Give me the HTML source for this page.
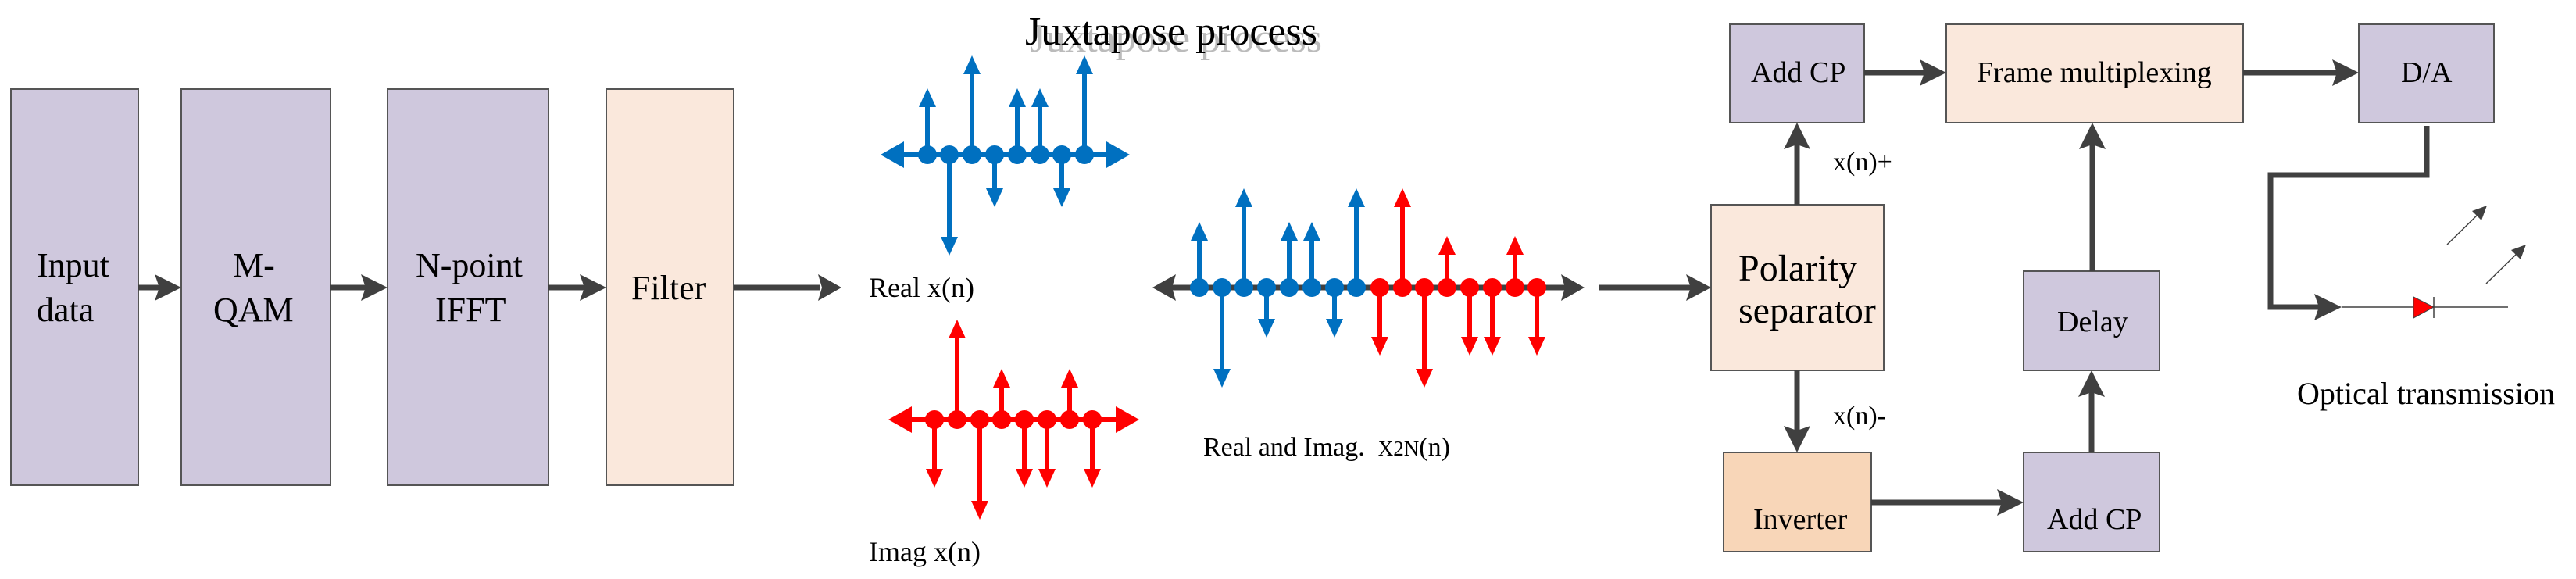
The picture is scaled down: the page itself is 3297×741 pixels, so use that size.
<!DOCTYPE html>
<html><head><meta charset="utf-8"><style>
html,body{margin:0;padding:0;background:#fff;}
body{position:relative;width:3297px;height:741px;overflow:hidden;}
svg{display:block;position:absolute;left:0;top:0;}
svg text{font-family:"Liberation Serif","Times New Roman",serif;fill:#000;}
.l{position:absolute;font-family:"Liberation Serif","Times New Roman",serif;color:#000;white-space:nowrap;margin:0;padding:0;}
.f44{font-size:44px;line-height:44px;}
.f48{font-size:48px;line-height:48px;}
.f38{font-size:38px;line-height:38px;}
</style></head><body>
<svg width="3297" height="741" viewBox="0 0 3297 741" xmlns="http://www.w3.org/2000/svg">
<g stroke="#555" stroke-width="2">
<rect x="14" y="114" width="163" height="507" fill="#CFC8DD"/>
<rect x="232" y="114" width="191" height="507" fill="#CFC8DD"/>
<rect x="496" y="114" width="206" height="507" fill="#CFC8DD"/>
<rect x="776" y="114" width="163" height="507" fill="#FAE8DC"/>
<rect x="2214" y="31" width="172" height="126" fill="#CFC8DD"/>
<rect x="2491" y="31" width="380" height="126" fill="#FAE8DC"/>
<rect x="3019" y="31" width="173" height="126" fill="#CFC8DD"/>
<rect x="2190" y="262" width="221" height="212" fill="#FAE8DC"/>
<rect x="2206" y="579" width="189" height="127" fill="#F8D6B8"/>
<rect x="2590" y="579" width="174" height="127" fill="#CFC8DD"/>
<rect x="2590" y="347" width="174" height="127" fill="#CFC8DD"/>
</g>
<g>
<text x="2346" y="218" font-size="34">x(n)+</text>
<text x="2346" y="543" font-size="34">x(n)-</text>
<text x="2940" y="517" font-size="40">Optical transmission</text>
<text x="1112" y="380" font-size="36">Real x(n)</text>
<text x="1112" y="718" font-size="36">Imag x(n)</text>
<text x="1540" y="583" font-size="34" xml:space="preserve">Real and Imag.  <tspan font-size="27">X2N</tspan>(n)</text>
<text x="1318" y="66" font-size="52" style="fill:#bbb">Juxtapose process</text>
<text x="1312" y="57" font-size="52">Juxtapose process</text>
</g>
<g stroke="#404040" stroke-width="7" fill="none">
<line x1="177" y1="368" x2="205" y2="368"/>
<line x1="423" y1="368" x2="470" y2="368"/>
<line x1="702" y1="368" x2="750" y2="368"/>
<line x1="939" y1="368" x2="1050" y2="368"/>
<line x1="1500" y1="368" x2="2005" y2="368"/>
<line x1="2046" y1="368" x2="2165" y2="368"/>
<line x1="2300" y1="262" x2="2300" y2="185"/>
<line x1="2300" y1="474" x2="2300" y2="555"/>
<line x1="2395" y1="643" x2="2565" y2="643"/>
<line x1="2677" y1="579" x2="2677" y2="500"/>
<line x1="2678" y1="347" x2="2678" y2="185"/>
<line x1="2386" y1="93" x2="2465" y2="93"/>
<line x1="2871" y1="93" x2="2995" y2="93"/>
<polyline points="3106,161 3106,224 2906,224 2906,393 2970,393"/>
</g>
<g fill="#404040">
<polygon points="232,368 198,351 204,368 198,385"/>
<polygon points="496,368 462,351 468,368 462,385"/>
<polygon points="776,368 742,351 748,368 742,385"/>
<polygon points="1077,368 1047,351 1052,368 1047,385"/>
<polygon points="1475,368 1505,351 1500,368 1505,385"/>
<polygon points="2028,368 1998,351 2003,368 1998,385"/>
<polygon points="2190,368 2158,351 2164,368 2158,385"/>
<polygon points="2491,93 2457,76 2463,93 2457,110"/>
<polygon points="3019,93 2985,76 2991,93 2985,110"/>
<polygon points="2590,643 2556,626 2562,643 2556,660"/>
<polygon points="2300,157 2283,191 2300,185 2317,191"/>
<polygon points="2300,579 2283,545 2300,551 2317,545"/>
<polygon points="2677,474 2660,508 2677,502 2694,508"/>
<polygon points="2678,157 2661,191 2678,185 2695,191"/>
<polygon points="2997,393 2962,376 2968,393 2962,410"/>
</g>
<g stroke="#404040" stroke-width="1.5">
<line x1="2997" y1="393" x2="3210" y2="393"/>
<line x1="3115" y1="380" x2="3115" y2="407"/>
<line x1="3132" y1="313" x2="3175" y2="271"/>
<line x1="3182" y1="363" x2="3225" y2="321"/>
</g>
<polygon points="3089,380 3115,393 3089,407" fill="#f00" stroke="#404040" stroke-width="1"/>
<g fill="#404040">
<polygon points="3183,263 3176,282 3164,270"/>
<polygon points="3233,313 3226,332 3214,320"/>
</g>
<g stroke="#0070C0" stroke-width="6" fill="#0070C0">
<line x1="1140" y1="198" x2="1432" y2="198"/>
<line x1="1187" y1="198" x2="1187" y2="133"/><line x1="1215" y1="198" x2="1215" y2="307"/>
<line x1="1244" y1="198" x2="1244" y2="91"/><line x1="1273" y1="198" x2="1273" y2="245"/>
<line x1="1302" y1="198" x2="1302" y2="133"/><line x1="1331" y1="198" x2="1331" y2="133"/>
<line x1="1359" y1="198" x2="1359" y2="245"/><line x1="1388" y1="198" x2="1388" y2="91"/>
</g>
<g fill="#0070C0">
<polygon points="1127,198 1157,181 1157,215"/><polygon points="1446,198 1416,181 1416,215"/>
<circle cx="1187" cy="198" r="12"/><circle cx="1215" cy="198" r="12"/><circle cx="1244" cy="198" r="12"/><circle cx="1273" cy="198" r="12"/>
<circle cx="1302" cy="198" r="12"/><circle cx="1331" cy="198" r="12"/><circle cx="1359" cy="198" r="12"/><circle cx="1388" cy="198" r="12"/>
<polygon points="1187,113 1176,137 1198,137"/><polygon points="1215,327 1204,303 1226,303"/>
<polygon points="1244,71 1233,95 1255,95"/><polygon points="1273,265 1262,241 1284,241"/>
<polygon points="1302,113 1291,137 1313,137"/><polygon points="1331,113 1320,137 1342,137"/>
<polygon points="1359,265 1348,241 1370,241"/><polygon points="1388,71 1377,95 1399,95"/>
</g>
<g stroke="#f00" stroke-width="6">
<line x1="1150" y1="537" x2="1444" y2="537"/>
<line x1="1196" y1="537" x2="1196" y2="604"/><line x1="1225" y1="537" x2="1225" y2="429"/>
<line x1="1254" y1="537" x2="1254" y2="645"/><line x1="1282" y1="537" x2="1282" y2="492"/>
<line x1="1311" y1="537" x2="1311" y2="604"/><line x1="1340" y1="537" x2="1340" y2="604"/>
<line x1="1369" y1="537" x2="1369" y2="492"/><line x1="1398" y1="537" x2="1398" y2="604"/>
</g>
<g fill="#f00">
<polygon points="1137,537 1167,520 1167,554"/><polygon points="1458,537 1428,520 1428,554"/>
<circle cx="1196" cy="537" r="12"/><circle cx="1225" cy="537" r="12"/><circle cx="1254" cy="537" r="12"/><circle cx="1282" cy="537" r="12"/>
<circle cx="1311" cy="537" r="12"/><circle cx="1340" cy="537" r="12"/><circle cx="1369" cy="537" r="12"/><circle cx="1398" cy="537" r="12"/>
<polygon points="1196,624 1185,600 1207,600"/><polygon points="1225,409 1214,433 1236,433"/>
<polygon points="1254,665 1243,641 1265,641"/><polygon points="1282,472 1271,496 1293,496"/>
<polygon points="1311,624 1300,600 1322,600"/><polygon points="1340,624 1329,600 1351,600"/>
<polygon points="1369,472 1358,496 1380,496"/><polygon points="1398,624 1387,600 1409,600"/>
</g>
<g stroke="#0070C0" stroke-width="6">
<line x1="1535" y1="368" x2="1535" y2="304"/><line x1="1564" y1="368" x2="1564" y2="476"/>
<line x1="1592" y1="368" x2="1592" y2="261"/><line x1="1621" y1="368" x2="1621" y2="412"/>
<line x1="1650" y1="368" x2="1650" y2="304"/><line x1="1679" y1="368" x2="1679" y2="304"/>
<line x1="1708" y1="368" x2="1708" y2="412"/><line x1="1736" y1="368" x2="1736" y2="261"/>
</g>
<g fill="#0070C0">
<circle cx="1535" cy="368" r="12"/><circle cx="1564" cy="368" r="12"/><circle cx="1592" cy="368" r="12"/><circle cx="1621" cy="368" r="12"/>
<circle cx="1650" cy="368" r="12"/><circle cx="1679" cy="368" r="12"/><circle cx="1708" cy="368" r="12"/><circle cx="1736" cy="368" r="12"/>
<polygon points="1535,284 1524,308 1546,308"/><polygon points="1564,496 1553,472 1575,472"/>
<polygon points="1592,241 1581,265 1603,265"/><polygon points="1621,432 1610,408 1632,408"/>
<polygon points="1650,284 1639,308 1661,308"/><polygon points="1679,284 1668,308 1690,308"/>
<polygon points="1708,432 1697,408 1719,408"/><polygon points="1736,241 1725,265 1747,265"/>
</g>
<g stroke="#f00" stroke-width="6">
<line x1="1766" y1="368" x2="1766" y2="435"/><line x1="1795" y1="368" x2="1795" y2="261"/>
<line x1="1823" y1="368" x2="1823" y2="476"/><line x1="1852" y1="368" x2="1852" y2="322"/>
<line x1="1881" y1="368" x2="1881" y2="435"/><line x1="1910" y1="368" x2="1910" y2="435"/>
<line x1="1939" y1="368" x2="1939" y2="322"/><line x1="1967" y1="368" x2="1967" y2="435"/>
</g>
<g fill="#f00">
<circle cx="1766" cy="368" r="12"/><circle cx="1795" cy="368" r="12"/><circle cx="1823" cy="368" r="12"/><circle cx="1852" cy="368" r="12"/>
<circle cx="1881" cy="368" r="12"/><circle cx="1910" cy="368" r="12"/><circle cx="1939" cy="368" r="12"/><circle cx="1967" cy="368" r="12"/>
<polygon points="1766,455 1755,431 1777,431"/><polygon points="1795,241 1784,265 1806,265"/>
<polygon points="1823,496 1812,472 1834,472"/><polygon points="1852,302 1841,326 1863,326"/>
<polygon points="1881,455 1870,431 1892,431"/><polygon points="1910,455 1899,431 1921,431"/>
<polygon points="1939,302 1928,326 1950,326"/><polygon points="1967,455 1956,431 1978,431"/>
</g>
</svg>
<div class="l f44" style="left:47px;top:318px">Input</div>
<div class="l f44" style="left:47px;top:375px">data</div>
<div class="l f44" style="left:298px;top:318px">M-</div>
<div class="l f44" style="left:273px;top:375px">QAM</div>
<div class="l f44" style="left:532px;top:318px">N-point</div>
<div class="l f44" style="left:557px;top:375px">IFFT</div>
<div class="l f44" style="left:808px;top:347px">Filter</div>
<div class="l f48" style="left:2225px;top:320px">Polarity</div>
<div class="l f48" style="left:2225px;top:374px">separator</div>
<div class="l f38" style="left:2241px;top:74px">Add CP</div>
<div class="l f38" style="left:2530px;top:74px">Frame multiplexing</div>
<div class="l f38" style="left:3073px;top:74px">D/A</div>
<div class="l f38" style="left:2244px;top:646px">Inverter</div>
<div class="l f38" style="left:2620px;top:646px">Add CP</div>
<div class="l f38" style="left:2633px;top:393px">Delay</div>
</body></html>
